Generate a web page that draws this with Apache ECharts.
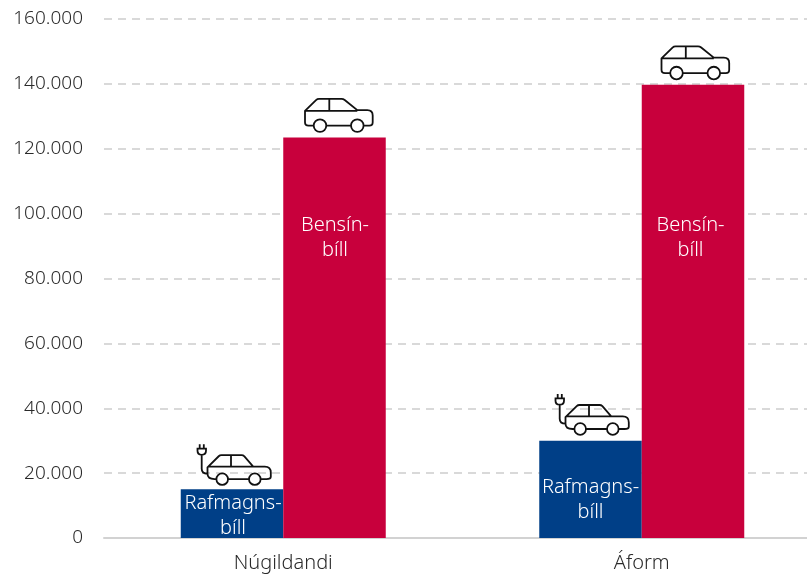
<!DOCTYPE html>
<html><head><meta charset="utf-8">
<style>html,body{margin:0;padding:0;background:#fff;overflow:hidden}#c{width:821px;height:576px}</style>
<script src="https://cdn.jsdelivr.net/npm/echarts@6/dist/echarts.min.js"></script>
</head><body><div id="c"></div>
<script>
const categories = ['Núgildandi', 'Áform'];
const electricValues = [15000, 30000];
const petrolValues = [123500, 139700];
const electricLabel = 'Rafmagns-\nbíll';
const petrolLabel = 'Bensín-\nbíll';
const electricLabelAt = [6900, 11800];
const petrolLabelAt = [92500, 92500];
const FONT = '"Noto Sans", sans-serif';
const BAR = 102.5;

const carPath = 'M-21,-11.8H-26Q-29.5,-11.8 -29.5,-15.2V-26.5L-18.5,-37.3Q-17.2,-38.5 -15.5,-38.5H7Q8.8,-38.5 10.2,-37.4L22.8,-27.2H32.8Q38.2,-27.2 38.2,-21.8V-15.2Q38.2,-11.8 34.8,-11.8H29' +
  'M-8,-11.8H16M-29.5,-26.5H22.8M-5.2,-38.5V-27' +
  'M-8.2,-11.8A6.3,6.3 0 1 1 -20.8,-11.8A6.3,6.3 0 1 1 -8.2,-11.8Z' +
  'M29.1,-11.8A6.3,6.3 0 1 1 16.5,-11.8A6.3,6.3 0 1 1 29.1,-11.8Z';
const plugCarPath = 'M-16.1,-11.7H-18Q-25,-11.7 -25,-17V-23.5L-13.8,-34.6Q-12.7,-35.7 -11,-35.7H9Q10.7,-35.7 11.9,-34.5L20.7,-24.3H32.3Q38.3,-24.3 38.3,-18.3V-14Q38.3,-11.7 34,-11.7H28.1' +
  'M-4.5,-11.7H16.5M-24,-24.3H20.7M-1.5,-35.7V-24.3' +
  'M-4.5,-11.7A5.8,5.8 0 1 1 -16.1,-11.7A5.8,5.8 0 1 1 -4.5,-11.7Z' +
  'M28.1,-11.7A5.8,5.8 0 1 1 16.5,-11.7A5.8,5.8 0 1 1 28.1,-11.7Z' +
  'M-30.8,-36V-22Q-30.8,-17 -25,-17' +
  'M-35,-42.3H-26.5V-40Q-26.5,-36 -30.8,-36Q-35,-36 -35,-40Z' +
  'M-32.8,-46.7V-42.3M-28.7,-46.7V-42.3';

function overlay(values, labelAt, label, side, path, nudge, textNudge) {
  return {
    type: 'custom',
    coordinateSystem: 'cartesian2d',
    silent: true,
    z: 5,
    data: values.map((v, i) => [i, v, labelAt[i]]),
    renderItem(params, api) {
      const i = api.value(0);
      const top = api.coord([i, api.value(1)]);
      const lab = api.coord([i, api.value(2)]);
      const x = top[0] + side * BAR / 2;
      const n = nudge[i];
      return {
        type: 'group',
        children: [
          { type: 'path', x: x + n[0], y: top[1] + n[1], shape: { pathData: path },
            style: { fill: 'none', stroke: '#111', lineWidth: 1.8 } },
          { type: 'text', x: x + textNudge[i], y: lab[1],
            style: { text: label, fill: '#fff', font: '300 20px ' + FONT, align: 'center', verticalAlign: 'middle', lineHeight: 25.5 } }
        ]
      };
    }
  };
}

const chart = echarts.init(document.getElementById('c'));
chart.setOption({
  animation: false,
  backgroundColor: '#fff',
  grid: { left: 104, right: 0, top: 19, bottom: 38 },
  xAxis: {
    type: 'category', data: categories,
    axisTick: { show: false },
    axisLine: { lineStyle: { color: '#d2d2d2', width: 2 } },
    axisLabel: { color: '#2a2a2a', fontFamily: FONT, fontWeight: 300, fontSize: 20, margin: 15 }
  },
  yAxis: {
    type: 'value', min: 0, max: 160000, interval: 20000,
    axisLine: { show: false }, axisTick: { show: false },
    axisLabel: { color: '#2a2a2a', fontFamily: FONT, fontWeight: 300, fontSize: 19, margin: 21,
      formatter: v => String(v).replace(/\B(?=(\d{3})+$)/g, '.') },
    splitLine: { lineStyle: { color: '#d9d9d9', width: 2, type: [8, 6] } }
  },
  series: [
    { type: 'bar', data: electricValues, barWidth: BAR, barGap: 0, itemStyle: { color: '#003f87' } },
    { type: 'bar', data: petrolValues, barWidth: BAR, barGap: 0, itemStyle: { color: '#c8003c' } },
    overlay(electricValues, electricLabelAt, electricLabel, -1, plugCarPath, [[0.5, 1.5], [0, 0]], [1, 0]),
    overlay(petrolValues, petrolLabelAt, petrolLabel, 1, carPath, [[0, 0], [-2, 0]], [0.5, -2.5])
  ]
});
</script></body></html>
